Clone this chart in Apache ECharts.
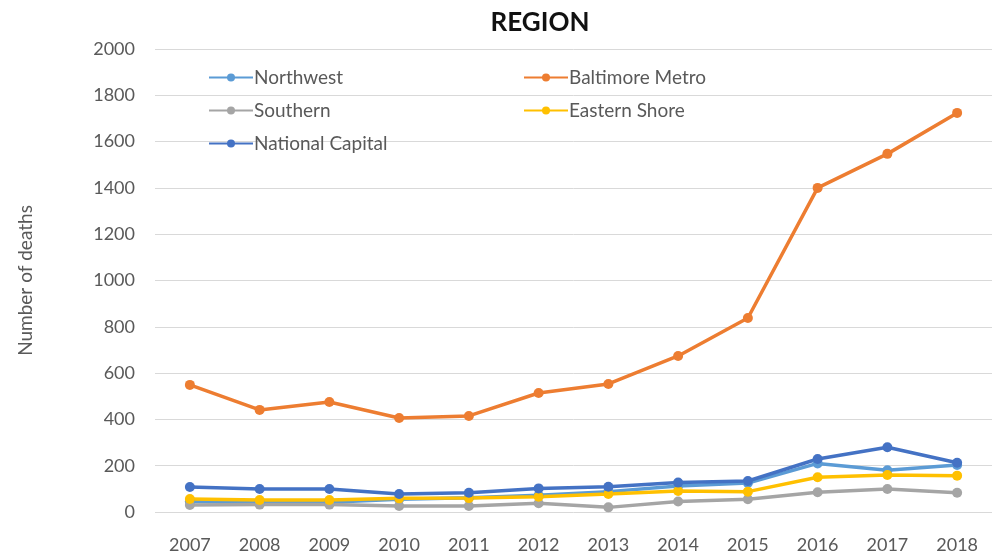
<!DOCTYPE html>
<html>
<head>
<meta charset="utf-8">
<script src="https://cdn.jsdelivr.net/npm/echarts@6/dist/echarts.min.js"></script>
<style>html,body{margin:0;padding:0;background:#fff}#c{width:992px;height:557px}</style>
</head>
<body>
<div id="c"></div>
<script>
const years = ['2007','2008','2009','2010','2011','2012','2013','2014','2015','2016','2017','2018'];
const northwest = [45, 42, 42, 55, 62, 72, 88, 112, 125, 210, 180, 203];
const baltimoreMetro = [549, 441, 475, 406, 415, 514, 553, 674, 838, 1400, 1547, 1724];
const southern = [30, 32, 32, 26, 26, 38, 20, 45, 55, 85, 99, 83];
const easternShore = [56, 52, 52, 59, 60, 66, 78, 91, 88, 150, 160, 157];
const nationalCapital = [108, 99, 99, 78, 83, 102, 109, 127, 134, 229, 280, 213];
const yTicks = [0, 200, 400, 600, 800, 1000, 1200, 1400, 1600, 1800, 2000];

const FONT = 'Lato';
function mk(name, data, color) {
  return {
    name, type: 'line', data,
    symbol: 'circle', symbolSize: 10,
    lineStyle: { width: 3.5, color },
    itemStyle: { color },
    emphasis: { disabled: true }
  };
}
const legendText = { fontFamily: FONT, fontSize: 19, color: '#595959', padding: [0,0,0,-4] };
const chart = echarts.init(document.getElementById('c'));
chart.setOption({
  animation: false,
  backgroundColor: '#fff',
  textStyle: { fontFamily: FONT },
  title: {
    text: 'REGION', left: 535, top: 5, textAlign: 'center',
    textStyle: { fontFamily: FONT, fontWeight: 'bold', fontSize: 26, color: '#111' }
  },
  legend: [
    {
      data: ['Northwest', 'Southern', 'National Capital'],
      orient: 'vertical', left: 203, top: 63, itemGap: 14, itemWidth: 44, itemHeight: 10,
      textStyle: legendText
    },
    {
      data: ['Baltimore Metro', 'Eastern Shore'],
      orient: 'vertical', left: 518, top: 63, itemGap: 14, itemWidth: 44, itemHeight: 10,
      textStyle: legendText
    }
  ],
  grid: { left: 155, top: 49, width: 842, height: 463, containLabel: false },
  xAxis: {
    type: 'category', data: years, boundaryGap: true,
    axisLine: { show: false }, axisTick: { show: false },
    axisLabel: { fontFamily: FONT, fontSize: 18, color: '#595959', margin: 24 }
  },
  yAxis: {
    type: 'value', min: yTicks[0], max: yTicks[yTicks.length - 1], interval: 200,
    name: 'Number of deaths', nameLocation: 'middle', nameGap: 120,
    nameTextStyle: { fontFamily: FONT, fontSize: 19, color: '#595959' },
    axisLine: { show: false }, axisTick: { show: false },
    axisLabel: { fontFamily: FONT, fontSize: 18, color: '#595959', margin: 20, formatter: v => String(v) },
    splitLine: { lineStyle: { color: '#d9d9d9', width: 1 } }
  },
  series: [
    mk('Northwest', northwest, '#5B9BD5'),
    mk('Baltimore Metro', baltimoreMetro, '#ED7D31'),
    mk('Southern', southern, '#A5A5A5'),
    mk('Eastern Shore', easternShore, '#FFC000'),
    mk('National Capital', nationalCapital, '#4472C4')
  ]
});
</script>
</body>
</html>
